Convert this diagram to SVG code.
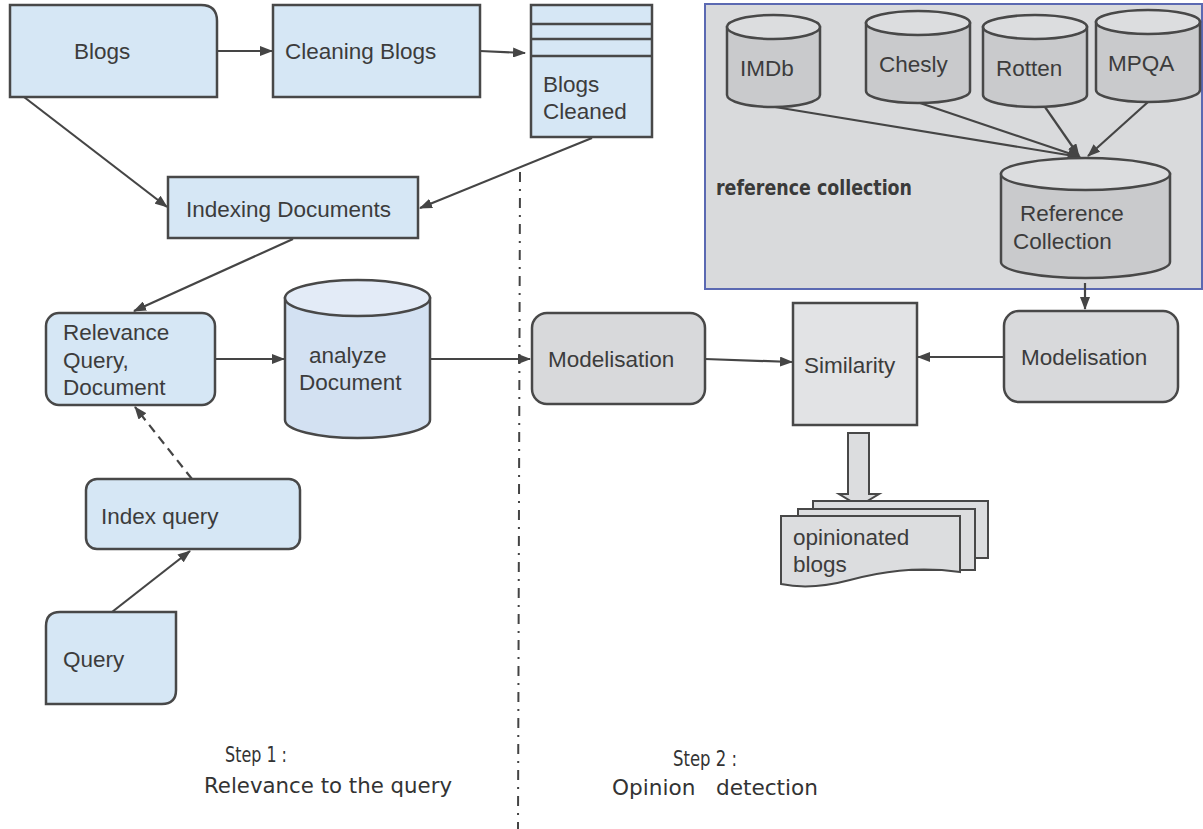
<svg xmlns="http://www.w3.org/2000/svg" width="1203" height="829" viewBox="0 0 1203 829">
<defs>
<style>
.b{fill:#d6e7f5;stroke:#484848;stroke-width:2.5}
.g{fill:#d8d9db;stroke:#484848;stroke-width:2.5}
.gc{fill:#c9cacc;stroke:#484848;stroke-width:2.5}
.gt{fill:#dcdddf;stroke:#484848;stroke-width:2.5}
.t{font-family:"Liberation Sans",Arial,sans-serif;font-size:22.5px;fill:#3c3c3c}
.s{font-family:"DejaVu Sans",sans-serif;font-size:21px;fill:#333}
.c{fill:none;stroke:#454545;stroke-width:2.2}
</style>
<marker id="ah" viewBox="0 0 13 10" refX="12" refY="5" markerWidth="13" markerHeight="10" markerUnits="userSpaceOnUse" orient="auto">
<path d="M0,0 L13,5 L0,10 Z" fill="#454545"/>
</marker>
</defs>
<rect width="1203" height="829" fill="#fff"/>

<g id="refcontainer">
<rect x="705" y="4" width="497" height="285" fill="#d9dadc" stroke="#5b69b2" stroke-width="2"/>
<text x="716" y="195" font-family="'DejaVu Sans Condensed','DejaVu Sans',sans-serif" font-weight="900" font-size="22" fill="#3a3a3a" textLength="196" lengthAdjust="spacingAndGlyphs">reference collection</text>
</g>

<g id="connectors">
<line class="c" x1="217" y1="51" x2="272" y2="51" marker-end="url(#ah)"/>
<line class="c" x1="480" y1="51" x2="525" y2="53" marker-end="url(#ah)"/>
<line class="c" x1="24" y1="97" x2="167" y2="207" marker-end="url(#ah)"/>
<line class="c" x1="592" y1="138" x2="420" y2="208" marker-end="url(#ah)"/>
<line class="c" x1="293" y1="239" x2="134" y2="311" marker-end="url(#ah)"/>
<line class="c" x1="215" y1="359" x2="284" y2="359" marker-end="url(#ah)"/>
<line class="c" x1="430" y1="359" x2="530" y2="359" marker-end="url(#ah)"/>
<line class="c" x1="192" y1="479" x2="135" y2="407" stroke-dasharray="9 6" marker-end="url(#ah)"/>
<line class="c" x1="112" y1="612" x2="190" y2="551" marker-end="url(#ah)"/>
<line class="c" x1="705" y1="359" x2="792" y2="362" marker-end="url(#ah)"/>
<line class="c" x1="1004" y1="357" x2="918" y2="357" marker-end="url(#ah)"/>
<line class="c" x1="1085" y1="283" x2="1085" y2="309" marker-end="url(#ah)"/>
<line class="c" x1="775" y1="107" x2="1080" y2="157" marker-end="url(#ah)"/>
<line class="c" x1="920" y1="103" x2="1080" y2="157" marker-end="url(#ah)"/>
<line class="c" x1="1045" y1="107" x2="1079" y2="156" marker-end="url(#ah)"/>
<line class="c" x1="1148" y1="102" x2="1088" y2="156" marker-end="url(#ah)"/>
<line x1="520" y1="172" x2="518" y2="829" stroke="#444" stroke-width="2" stroke-dasharray="10 7 2 7"/>
<path d="M848,433 H869 V494 H879 L859,506 L839,494 H848 Z" fill="#dcdddf" stroke="#484848" stroke-width="2"/>
</g>

<g id="blogs">
<path class="b" d="M10,5 H201 Q217,5 217,21 V97 H10 Z"/>
<text class="t" x="74" y="59">Blogs</text>
</g>
<g id="cleaning">
<rect class="b" x="273" y="5" width="207" height="92"/>
<text class="t" x="285" y="59">Cleaning Blogs</text>
</g>
<g id="blogscleaned">
<rect class="b" x="531" y="5" width="121" height="132"/>
<line x1="531" y1="24" x2="652" y2="24" stroke="#484848" stroke-width="2.5"/>
<line x1="531" y1="39" x2="652" y2="39" stroke="#484848" stroke-width="2.5"/>
<line x1="531" y1="56" x2="652" y2="56" stroke="#484848" stroke-width="2.5"/>
<text class="t" x="543" y="92">Blogs</text>
<text class="t" x="543" y="119">Cleaned</text>
</g>
<g id="indexing">
<rect class="b" x="168" y="177" width="250" height="61"/>
<text class="t" x="186" y="217">Indexing Documents</text>
</g>
<g id="relevance">
<rect class="b" x="46" y="313" width="169" height="92" rx="13"/>
<text class="t" x="63" y="340">Relevance</text>
<text class="t" x="63" y="368">Query,</text>
<text class="t" x="63" y="395">Document</text>
</g>
<g id="analyze">
<path d="M285,298 V420 A72.5,18 0 0 0 430,420 V298 Z" fill="#d3e1f2" stroke="#484848" stroke-width="2.5"/>
<ellipse cx="357.5" cy="298" rx="72.5" ry="18" fill="#e3ebf7" stroke="#484848" stroke-width="2.5"/>
<text class="t" x="309" y="363">analyze</text>
<text class="t" x="299" y="390">Document</text>
</g>
<g id="indexquery">
<rect class="b" x="86" y="479" width="214" height="70" rx="11"/>
<text class="t" x="101" y="524">Index query</text>
</g>
<g id="query">
<path class="b" d="M46,626 Q46,612 60,612 H176 V690 Q176,704 162,704 H46 Z"/>
<text class="t" x="63" y="667">Query</text>
</g>

<g id="imdb">
<path class="gc" d="M727,27 V95 A46.5,12 0 0 0 820,95 V27 Z"/>
<ellipse class="gt" cx="773.5" cy="27" rx="46.5" ry="12"/>
<text class="t" x="740" y="76">IMDb</text>
</g>
<g id="chesly">
<path class="gc" d="M866,23 V91 A52,12 0 0 0 970,91 V23 Z"/>
<ellipse class="gt" cx="918" cy="23" rx="52" ry="12"/>
<text class="t" x="879" y="72">Chesly</text>
</g>
<g id="rotten">
<path class="gc" d="M983,27 V95 A52,12 0 0 0 1087,95 V27 Z"/>
<ellipse class="gt" cx="1035" cy="27" rx="52" ry="12"/>
<text class="t" x="996" y="76">Rotten</text>
</g>
<g id="mpqa">
<path class="gc" d="M1096,22 V90 A52,12 0 0 0 1200,90 V22 Z"/>
<ellipse class="gt" cx="1148" cy="22" rx="52" ry="12"/>
<text class="t" x="1108" y="71">MPQA</text>
</g>
<g id="refcollection">
<path class="gc" d="M1001,174 V262 A84.5,16 0 0 0 1170,262 V174 Z"/>
<ellipse class="gt" cx="1085.5" cy="174" rx="84.5" ry="16"/>
<text class="t" x="1020" y="221">Reference</text>
<text class="t" x="1013" y="249">Collection</text>
</g>

<g id="modelisation1">
<rect class="g" x="532" y="313" width="173" height="91" rx="15"/>
<text class="t" x="548" y="367">Modelisation</text>
</g>
<g id="similarity">
<rect x="793" y="303" width="124" height="122" fill="#e2e3e5" stroke="#484848" stroke-width="2.5"/>
<text class="t" x="804" y="373">Similarity</text>
</g>
<g id="modelisation2">
<rect class="g" x="1004" y="311" width="174" height="91" rx="15"/>
<text class="t" x="1021" y="365">Modelisation</text>
</g>
<g id="opinionated">
<rect x="813" y="501" width="175" height="57" fill="#dcdddf" stroke="#484848" stroke-width="2"/>
<rect x="798" y="509" width="177" height="61" fill="#dcdddf" stroke="#484848" stroke-width="2"/>
<path d="M781,516 H960 V572 C915,566 880,572 850,580 C820,588 800,588 781,584 Z" fill="#dcdddf" stroke="#484848" stroke-width="2"/>
<text class="t" x="793" y="545">opinionated</text>
<text class="t" x="793" y="572">blogs</text>
</g>

<g id="labels">
<text class="s" x="225" y="762" textLength="62" lengthAdjust="spacingAndGlyphs">Step 1 :</text>
<text class="s" x="204" y="793" textLength="248" lengthAdjust="spacingAndGlyphs">Relevance to the query</text>
<text class="s" x="673" y="766" textLength="64" lengthAdjust="spacingAndGlyphs">Step 2 :</text>
<text class="s" x="612" y="795" textLength="206" lengthAdjust="spacingAndGlyphs" xml:space="preserve">Opinion   detection</text>
</g>
</svg>
